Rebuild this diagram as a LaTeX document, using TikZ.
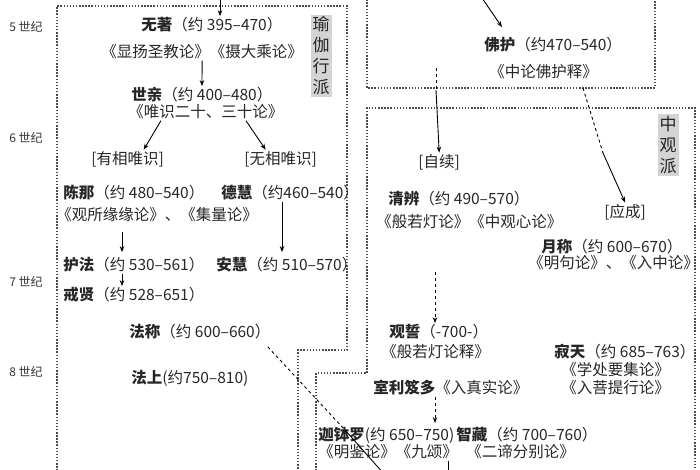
\documentclass[tikz,border=0pt]{standalone}
\usepackage{fontspec}
\setmainfont{Noto Sans CJK SC}
\usepackage{tikz}
\usetikzlibrary{arrows.meta}

\begin{document}
\begin{tikzpicture}[x=1pt, y=-1pt, >={Stealth[length=6pt,width=4.5pt]}, line width=0.9pt,
    txt/.style={anchor=west, inner sep=1pt, text=black!85, font=\fontsize{15.5}{17}\selectfont},
    era/.style={text=black!80, font=\fontsize{12}{14}\selectfont},
    school/.style={fill=black!17, text=black!85, align=center, inner sep=2pt, font=\fontsize{17}{21}\selectfont},
    frame/.style={black!70, line width=1.7pt, dash pattern=on 1.5pt off 1.6pt}]
    \clip (0,0) rectangle (700,470);
    \node[era] (c5) at (26,27) {5 世纪};
    \node[era] (c6) at (26,138) {6 世纪};
    \node[era] (c7) at (26,282) {7 世纪};
    \node[era] (c8) at (26,372) {8 世纪};
    \begin{scope}
      \draw[frame] (57,480) -- (57,6) -- (347,6) -- (347,350) -- (298,350) -- (298,480);
      \node[school] (yogacara) at (321,56) {瑜\\伽\\行\\派};
      \node[txt] (wuzhu) at (140,25) {\textbf{无著}（约 395–470）};
      \node[txt] (wuzhuB) at (100,52) {《显扬圣教论》《摄大乘论》};
      \node[txt] (shiqin) at (130,95) {\textbf{世亲}（约 400–480）};
      \node[txt] (shiqinB) at (127,112) {《唯识二十、三十论》};
      \node[txt] (youxiang) at (90,159) {[有相唯识]};
      \node[txt] (wuxiang) at (243,159) {[无相唯识]};
      \node[txt] (chenna) at (62,193) {\textbf{陈那}（约 480–540）};
      \node[txt] (dehui) at (220,193) {\textbf{德慧}（约460–540）};
      \node[txt] (chennaB) at (55,215) {《观所缘缘论》、《集量论》};
      \node[txt] (hufa) at (62,265) {\textbf{护法}（约 530–561）};
      \node[txt] (anhui) at (215,265) {\textbf{安慧}（约 510–570）};
      \node[txt] (jiexian) at (62,295) {\textbf{戒贤}（约 528–651）};
      \node[txt] (facheng) at (128,332) {\textbf{法称}（约 600–660）};
      \node[txt] (fashang) at (130,378) {\textbf{法上}(约750–810)};
      \coordinate (top1) at (220,-2);
      \draw[->] (top1) -- (top1 |- wuzhu.north);
      \draw[->] (wuzhuB.south) -- (shiqin.north);
      \draw[->] ([xshift=-45]shiqinB.south) -- ([xshift=16]youxiang.north);
      \draw[->] ([xshift=40]shiqinB.south) -- ([xshift=-15]wuxiang.north);
      \draw[->] ([xshift=67,yshift=-8]chennaB.south west) -- ([xshift=60,yshift=4]hufa.north west);
      \draw[->] ([xshift=62]dehui.south west) -- ([xshift=67,yshift=4]anhui.north west);
      \draw[->] ([xshift=60]hufa.south west) -- ([xshift=60]jiexian.north west);
    \end{scope}
    \begin{scope}
      \draw[frame] (367,-10) -- (367,88) -- (655,88) -- (655,-10);
      \draw[frame] (316,480) -- (316,373) -- (367,373) -- (367,108) -- (695,108) -- (695,480);
      \node[school] (madhyamaka) at (668,145) {中\\观\\派};
      \node[txt] (fohu) at (483,45) {\textbf{佛护}（约470–540）};
      \node[txt] (fohuB) at (488,72) {《中论佛护释》};
      \node[txt] (zixu) at (417,162) {[自续]};
      \node[txt] (qingbian) at (387,199) {\textbf{清辨}（约 490–570）};
      \node[txt] (qingbianB) at (375,222) {《般若灯论》《中观心论》};
      \node[txt] (yingcheng) at (603,212) {[应成]};
      \node[txt] (yuecheng) at (540,247) {\textbf{月称}（约 600–670）};
      \node[txt] (yuechengB) at (527,263) {《明句论》、《入中论》};
      \node[txt] (guanshi) at (388,332) {\textbf{观誓}（-700-）};
      \node[txt] (guanshiB) at (380,352) {《般若灯论释》};
      \node[txt] (jitian) at (553,352) {\textbf{寂天}（约 685–763）};
      \node[txt] (jitianB) at (560,370) {《学处要集论》};
      \node[txt] (jitianC) at (560,388) {《入菩提行论》};
      \node[txt] (shili) at (372,388) {\textbf{室利笈多}《入真实论》};
      \node[txt] (jiabo) at (317,435) {\textbf{迦钵罗}(约 650–750)};
      \node[txt] (zhizang) at (455,435) {\textbf{智藏}（约 700–760）};
      \node[txt] (jiaboB) at (317,452) {《明鉴论》《九颂》};
      \node[txt] (zhizangB) at (465,452) {《二谛分别论》};
      \coordinate (top2) at (482,-2);
      \coordinate (zx1) at (436,68);
      \coordinate (zx2) at (436,90);
      \coordinate (yc1) at (583,88);
      \coordinate (yc2) at (603,153);
      \coordinate (qg) at (435,272);
      \coordinate (cross) at (345,430);
      \coordinate (fcend) at (384,474);
      \coordinate (bot) at (448,474);
      \draw[->] (top2) -- ([xshift=19,yshift=9]fohu.north west);
      \draw[dashed] (zx1) -- (zx2);
      \draw[->] (zx2) -- (zixu.north);
      \draw[dashed] (yc1) -- (yc2);
      \draw[->] (yc2) -- (yingcheng.north);
      \draw[dashed, ->] (qg) -- (qg |- guanshi.north);
      \draw[dashed, ->] ([xshift=63]shili.south west) -- ([xshift=-20,yshift=3]zhizang.north west);
      \draw[dashed] ([xshift=-4,yshift=-6]facheng.south east) -- (cross);
      \draw (cross) -- (fcend);
      \draw (bot |- jiaboB.south) -- (bot);
    \end{scope}
\end{tikzpicture}
\end{document}
